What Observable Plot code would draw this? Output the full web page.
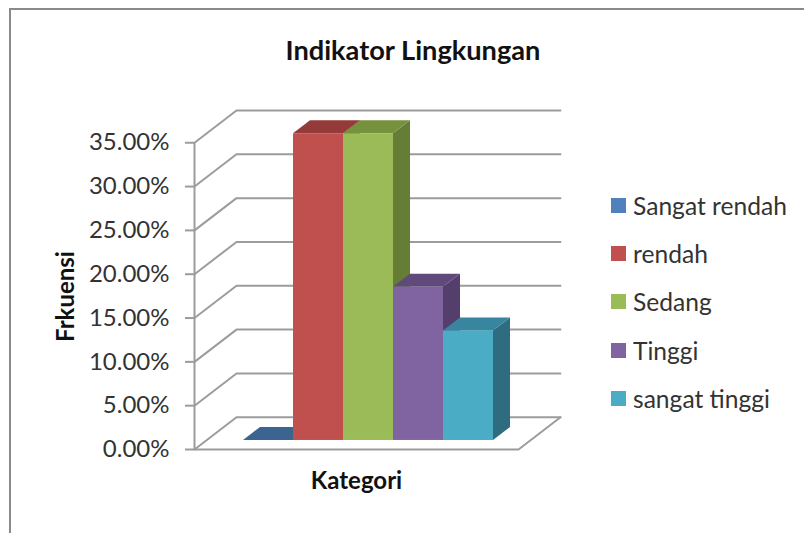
<!DOCTYPE html>
<html>
<head>
<meta charset="utf-8">
<script src="https://cdn.jsdelivr.net/npm/d3@7"></script>
<script src="https://cdn.jsdelivr.net/npm/@observablehq/plot@0.6"></script>
<style>
  html,body{margin:0;padding:0;background:#fff;overflow:hidden}
  #wrap{position:relative;width:804px;height:533px;font-family:Lato,"Open Sans",sans-serif}
  #frame{position:absolute;left:9px;top:8px;width:800px;height:530px;border:2px solid #8a8a8a;box-sizing:border-box}
  #chart{position:absolute;left:0;top:0}
  #title{position:absolute;left:213px;width:400px;top:35px;text-align:center;font-weight:700;font-size:27.2px;line-height:30px;color:#111;margin:0}
  .lg{position:absolute;left:611px;height:30px;line-height:30px;font-size:24.6px;color:#333;white-space:nowrap}
  .lg i{position:absolute;left:0;top:7px;width:15px;height:15px}
  .lg span{position:absolute;left:22px;top:0}
</style>
</head>
<body>
<div id="wrap"><div id="frame"></div><h1 id="title">Indikator Lingkungan</h1><div id="chart"></div></div>
<script>
const categories = ["Sangat rendah", "rendah", "Sedang", "Tinggi", "sangat tinggi"];
const values = [0, 35, 35, 17.5, 12.5];
const yTicks = [0, 5, 10, 15, 20, 25, 30, 35];
const frontColors = ["#4F81BD", "#C0504D", "#9BBB59", "#8064A2", "#4BACC6"];
const topColors = ["#3B6491", "#943A38", "#76923C", "#604A7B", "#37859E"];
const sideColors = ["#2F5078", "#7A2F2D", "#667D36", "#543F6C", "#2F6C7F"];

// Oblique projection, expressed in data units of the two scales
const wallDX = 0.84, wallDY = 3.68;     // depth of floor / side wall
const barDX = 0.34, barDY = 1.48;       // depth of each bar
const barStart = 0.98, barBase = 1.03;  // front-left foot of the first bar
const xEnd = 6.48;                      // right end of the front floor edge
const grid = "#9c9c9c";

const barMarks = categories.flatMap((c, i) => {
  const left = barStart + i, right = left + 1, base = barBase, top = barBase + values[i];
  const side = [
    {x: right, y1: base, y2: top},
    {x: right + barDX, y1: base + barDY, y2: top + barDY}
  ];
  const roof = [
    {y: top, x1: left, x2: right},
    {y: top + barDY, x1: left + barDX, x2: right + barDX}
  ];
  const marks = [
    Plot.areaY(side, {x: "x", y1: "y1", y2: "y2", fill: sideColors[i]}),
    Plot.areaX(roof, {y: "y", x1: "x1", x2: "x2", fill: topColors[i]})
  ];
  if (values[i] > 0) marks.push(Plot.rect([{x1: left, x2: right, y1: base, y2: top}], {
    x1: "x1", x2: "x2", y1: "y1", y2: "y2", fill: frontColors[i]
  }));
  return marks;
});

const wallLines = yTicks.map(v => Plot.line(
  [[0, v], [wallDX, v + wallDY], [xEnd + wallDX, v + wallDY]],
  {x: d => d[0], y: d => d[1], stroke: grid, strokeWidth: 2}
));

const plot = Plot.plot({
  width: 804,
  height: 533,
  marginLeft: 194,
  marginRight: 244,
  marginTop: 110,
  marginBottom: 84,
  x: {domain: [0, xEnd + wallDX], axis: null},
  y: {domain: [0, 35 + wallDY]},
  marks: [
    ...wallLines,
    Plot.line([[0, 0], [xEnd, 0], [xEnd + wallDX, wallDY]], {x: d => d[0], y: d => d[1], stroke: grid, strokeWidth: 2}),
    Plot.ruleX([0], {y1: 0, y2: 35, stroke: grid, strokeWidth: 2}),
    Plot.axisY({
      ticks: yTicks, tickFormat: v => v.toFixed(2) + "%", tickSize: 9, tickPadding: 16,
      fontSize: 24, label: null, stroke: grid, strokeWidth: 2, strokeOpacity: 1, color: "#333", fill: "#333"
    }),
    ...barMarks,
    Plot.text(["Kategori"], {text: d => d, frameAnchor: "bottom", dx: -21, dy: 32, lineAnchor: "middle", fontSize: 24, fontWeight: 700, fill: "#111"}),
    Plot.text(["Frkuensi"], {text: d => d, frameAnchor: "left", textAnchor: "middle", dx: -128, dy: 16.5, rotate: -90, lineAnchor: "middle", fontSize: 24, fontWeight: 700, fill: "#111"})
  ],
  style: {fontFamily: "Lato, 'Open Sans', sans-serif", background: "transparent", overflow: "visible"}
});
document.getElementById("chart").append(plot);

const legendTops = [191, 239, 287, 336, 384];
categories.forEach((c, i) => {
  const row = document.createElement("div");
  row.className = "lg";
  row.style.top = legendTops[i] + "px";
  const sw = document.createElement("i");
  sw.style.background = frontColors[i];
  const t = document.createElement("span");
  t.textContent = c;
  row.append(sw, t);
  document.getElementById("wrap").append(row);
});
</script>
</body>
</html>
